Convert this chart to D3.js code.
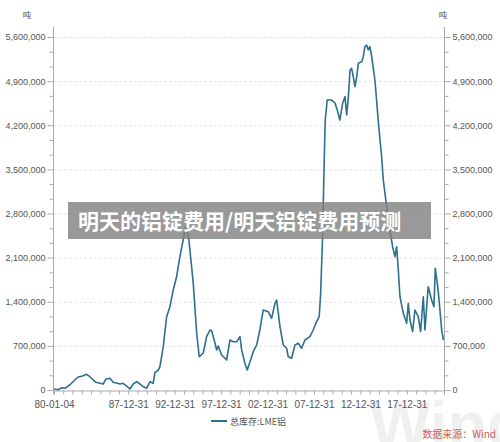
<!DOCTYPE html>
<html><head><meta charset="utf-8">
<script src="https://cdn.jsdelivr.net/npm/d3@7"></script>
<style>body{margin:0;background:#fff}svg{display:block}</style>
</head><body>
<svg id="c" width="500" height="442"></svg>
<script>
const dates = ["1980-01-04","1980-06-15","1980-11-01","1981-03-01","1981-09-15","1982-04-01","1982-08-15","1983-02-01","1983-07-10","1983-11-15","1984-03-25","1984-07-10","1985-04-20","1985-08-10","1986-01-10","1986-05-20","1987-02-10","1987-06-15","1987-10-30","1988-03-05","1988-07-15","1988-12-01","1989-04-05","1989-08-15","1989-12-25","1990-05-05","1990-09-10","1990-11-15","1991-03-25","1991-06-01","1991-10-10","1992-02-20","1992-06-28","1992-11-05","1993-03-18","1993-07-25","1993-12-01","1994-03-01","1994-04-25","1994-07-15","1995-01-01","1995-05-15","1995-08-25","1996-01-30","1996-06-10","1996-10-20","1996-12-25","1997-05-05","1997-07-10","1997-09-10","1998-01-20","1998-08-05","1998-12-15","1999-04-25","1999-09-05","2000-01-10","2000-03-20","2000-07-25","2000-10-25","2001-02-10","2001-06-18","2001-10-30","2002-03-05","2002-07-15","2003-01-30","2003-06-10","2003-10-20","2003-12-25","2004-05-05","2004-09-10","2005-01-20","2005-03-25","2005-08-05","2005-12-15","2006-04-25","2006-09-01","2007-01-10","2007-07-25","2007-12-01","2008-04-15","2008-07-25","2008-09-20","2008-12-05","2009-01-30","2009-03-20","2009-06-05","2009-11-25","2010-04-05","2010-07-05","2010-10-15","2011-02-01","2011-05-05","2011-07-10","2011-09-10","2011-11-20","2012-01-20","2012-03-25","2012-06-01","2012-08-10","2012-10-10","2013-02-20","2013-04-25","2013-06-25","2013-09-01","2013-11-05","2014-01-10","2014-03-20","2014-07-25","2014-12-01","2015-02-10","2015-04-15","2015-06-20","2015-10-30","2016-03-05","2016-06-20","2016-09-20","2016-11-25","2017-01-30","2017-04-05","2017-08-15","2017-12-25","2018-02-25","2018-05-05","2018-08-15","2018-11-15","2019-03-25","2019-06-25","2019-10-10","2019-12-15","2020-04-20","2020-09-01","2020-12-01","2021-01-25","2021-05-15","2021-07-25","2021-10-01","2021-12-10"];
const stock = [16000,5000,36000,27000,79000,159000,206000,222000,249000,211000,159000,122000,95000,175000,186000,122000,95000,106000,63000,16000,95000,132000,95000,52000,27000,132000,106000,274000,317000,370000,687000,1163000,1321000,1586000,1797000,2115000,2380000,2586000,2570000,2380000,1697000,904000,528000,587000,846000,952000,941000,746000,635000,698000,555000,476000,793000,766000,766000,846000,635000,424000,317000,449000,608000,714000,952000,1269000,1242000,1137000,1375000,1428000,1004000,714000,662000,528000,503000,714000,741000,662000,793000,846000,952000,1084000,1163000,1534000,2432000,3490000,4283000,4600000,4600000,4553000,4442000,4283000,4548000,4653000,4363000,4627000,5076000,5103000,4970000,4812000,4970000,5183000,5208000,5287000,5446000,5473000,5394000,5446000,5287000,4918000,4283000,3966000,3701000,3331000,2908000,2538000,2273000,2115000,2273000,1904000,1480000,1217000,1058000,1375000,1110000,925000,1269000,1163000,925000,1480000,952000,1639000,1428000,1321000,1931000,1586000,1269000,952000,793000];
const yTickValues = [0,700000,1400000,2100000,2800000,3500000,4200000,4900000,5600000];
const xTickLabels = ["1980-01-04","1987-12-31","1992-12-31","1997-12-31","2002-12-31","2007-12-31","2012-12-31","2017-12-31"];
const seriesName = "总库存:LME铝";
const unitLabel = "吨";
const titleText = "明天的铝锭费用/明天铝锭费用预测";
const sourceText = "数据来源：Wind";

const parse = d3.timeParse("%Y-%m-%d");
const data = dates.map((d,i)=>({date:parse(d), v:stock[i]}));
const svg = d3.select("#c");
const L=54, R=444, T=37, B=390;
const FONT = "'Liberation Sans','Noto Sans CJK SC',sans-serif";
const x = d3.scaleTime().domain([parse("1980-01-04"), parse("2022-01-01")]).range([L,R]);
const y = d3.scaleLinear().domain([0,5600000]).range([B,T]);

// watermark
svg.append("text").attr("x",370).attr("y",447).attr("font-family","'Liberation Sans',sans-serif")
  .attr("font-size",64).attr("font-weight","bold").attr("fill","#f0f0f0").text("Wind");

// grid
svg.append("g").selectAll("line").data(yTickValues.filter(d=>d>0)).join("line")
  .attr("x1",L).attr("x2",R).attr("y1",d=>y(d)+0.5).attr("y2",d=>y(d)+0.5)
  .attr("stroke","#e4e4e4").attr("stroke-dasharray","3,2");

const minor = d3.range(0, 5600001, 700000/3).filter(v=>!yTickValues.some(t=>Math.abs(t-v)<1));
function yAxis(g, gen){
  g.call(gen.tickValues(yTickValues).tickSize(6).tickPadding(2).tickFormat(d3.format(",")));
  g.select(".domain").remove();
  g.selectAll("line").attr("stroke","#aaa");
  g.selectAll("text").attr("fill","#555").attr("font-size",9).attr("font-family",FONT);
}
const gl = svg.append("g").attr("transform",`translate(${L-0.5},0)`);
gl.call(g=>yAxis(g,d3.axisLeft(y)));
gl.append("g").call(d3.axisLeft(y).tickValues(minor).tickSize(4).tickFormat("")).call(g=>{g.select(".domain").remove();g.selectAll("line").attr("stroke","#aaa");});
gl.append("line").attr("y1",27).attr("y2",B+4).attr("stroke","#aaa");

const gr = svg.append("g").attr("transform",`translate(${R+0.5},0)`);
gr.call(g=>yAxis(g,d3.axisRight(y)));
gr.append("g").call(d3.axisRight(y).tickValues(minor).tickSize(4).tickFormat("")).call(g=>{g.select(".domain").remove();g.selectAll("line").attr("stroke","#aaa");});
gr.append("line").attr("y1",27).attr("y2",B+4).attr("stroke","#aaa");

// x axis
const xTicks = [parse("1980-01-04")].concat(d3.range(1980,2022).map(yr=>parse(yr+"-12-31")));
const labelSet = new Set(xTickLabels);
const fmt = d3.timeFormat("%Y-%m-%d"), fmtS = d3.timeFormat("%y-%m-%d");
const gx = svg.append("g").attr("transform",`translate(0,${B+0.5})`)
  .call(d3.axisBottom(x).tickValues(xTicks).tickSize(4).tickPadding(6)
    .tickFormat(d=>labelSet.has(fmt(d))?fmtS(d):""));
gx.select(".domain").attr("stroke","#aaa");
gx.selectAll("line").attr("stroke","#aaa");
gx.selectAll("text").attr("fill","#555").attr("font-size",10).attr("font-family",FONT);

// unit labels
svg.append("text").attr("x",27).attr("y",18).attr("text-anchor","middle").attr("font-size",8.5)
  .attr("font-family","'Noto Sans CJK SC',sans-serif").attr("fill","#555").text(unitLabel);
svg.append("text").attr("x",443).attr("y",18).attr("text-anchor","middle").attr("font-size",8.5)
  .attr("font-family","'Noto Sans CJK SC',sans-serif").attr("fill","#555").text(unitLabel);

// line
const line = d3.line().x(d=>x(d.date)).y(d=>y(d.v)).curve(d3.curveLinear);
svg.append("path").datum(data).attr("d",line).attr("fill","none")
  .attr("stroke","#2d6f8c").attr("stroke-width",1.6).attr("stroke-linejoin","round");

// legend
svg.append("line").attr("x1",211).attr("x2",227).attr("y1",421).attr("y2",421)
  .attr("stroke","#2d6f8c").attr("stroke-width",2);
svg.append("text").attr("x",230).attr("y",424.5).attr("font-size",9)
  .attr("font-family","'Noto Sans CJK SC',sans-serif").attr("fill","#555").text(seriesName);

// source
svg.append("text").attr("x",496).attr("y",438).attr("text-anchor","end").attr("font-size",10)
  .attr("font-family","'Noto Sans CJK SC',sans-serif").attr("fill","#c95f5a").text(sourceText);

// title banner
svg.append("rect").attr("x",68).attr("y",202).attr("width",363).attr("height",37)
  .attr("fill","#808080").attr("opacity",0.8);
svg.append("text").attr("x",78).attr("y",220).attr("dominant-baseline","central")
  .attr("font-size",21).attr("font-weight","bold").attr("font-family","'Noto Sans CJK SC',sans-serif")
  .attr("fill","#fff").text(titleText);
</script>
</body></html>
